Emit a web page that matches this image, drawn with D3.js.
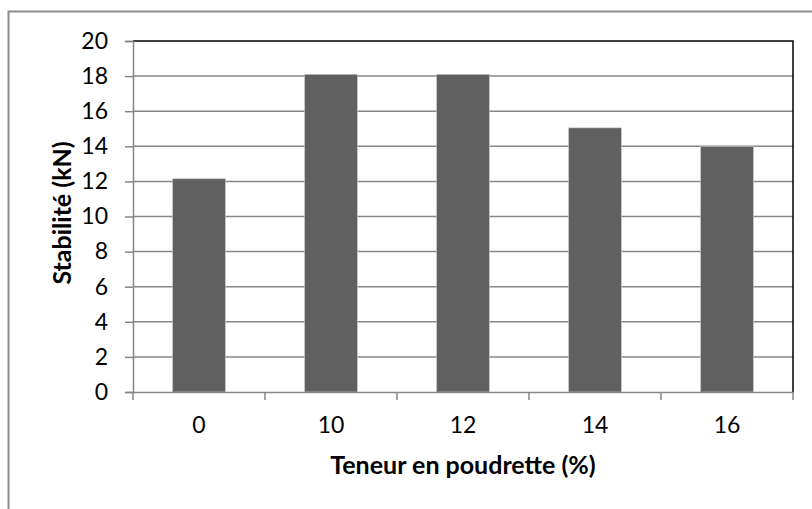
<!DOCTYPE html>
<html>
<head>
<meta charset="utf-8">
<script src="https://cdn.jsdelivr.net/npm/d3@7"></script>
<style>
  body { margin: 0; background: #fff; }
  svg { display: block; }
</style>
</head>
<body>
<svg width="812" height="509"></svg>
<script>
const categories = ["0", "10", "12", "14", "16"];
const values = [12.15, 18.1, 18.1, 15.05, 14.0];
const yTicks = [0, 2, 4, 6, 8, 10, 12, 14, 16, 18, 20];

const width = 812;
const height = 509;
const margin = { top: 41, right: 19, bottom: 117, left: 133 };
const font = "Lato, 'Open Sans', sans-serif";

const svg = d3.select("svg");

// outer chart border (cut off at right/bottom like the reference)
svg.append("rect")
  .attr("x", 8.5).attr("y", 11.5)
  .attr("width", 820).attr("height", 520)
  .attr("fill", "#fff")
  .attr("stroke", "#8c8c8c")
  .attr("stroke-width", 2);

const x = d3.scaleBand()
  .domain(categories)
  .range([margin.left, width - margin.right])
  .paddingInner(0.6)
  .paddingOuter(0.3);

const y = d3.scaleLinear()
  .domain([0, 20])
  .range([height - margin.bottom, margin.top]);

// gridlines
svg.append("g")
  .selectAll("line")
  .data(yTicks.filter(d => d > 0 && d < 20))
  .enter()
  .append("line")
  .attr("x1", margin.left)
  .attr("x2", width - margin.right)
  .attr("y1", d => y(d))
  .attr("y2", d => y(d))
  .attr("stroke", "#878787")
  .attr("stroke-width", 1.5);

// bars
svg.append("g")
  .selectAll("rect")
  .data(values)
  .enter()
  .append("rect")
  .attr("x", (d, i) => x(categories[i]))
  .attr("width", x.bandwidth())
  .attr("y", d => y(d))
  .attr("height", d => y(0) - y(d))
  .attr("fill", "#606060")
  .attr("stroke", "#c8c8c8")
  .attr("stroke-width", 0.6);

// plot frame top/right (black)
svg.append("path")
  .attr("d", `M${margin.left},${margin.top}H${width - margin.right}V${height - margin.bottom}`)
  .attr("fill", "none")
  .attr("stroke", "#000")
  .attr("stroke-width", 1.5);

// y axis
const yAxis = svg.append("g")
  .attr("transform", `translate(${margin.left},0)`)
  .call(d3.axisLeft(y).tickValues(yTicks).tickSize(8).tickPadding(17));
yAxis.select(".domain").attr("stroke", "#868686").attr("stroke-width", 1.5);
yAxis.selectAll(".tick line").attr("stroke", "#868686").attr("stroke-width", 1.5);
yAxis.selectAll("text")
  .style("font-family", font)
  .style("font-size", "23px")
  .attr("fill", "#000");

// x axis with ticks at band boundaries
const xAxis = svg.append("g")
  .attr("transform", `translate(0,${height - margin.bottom})`)
  .call(d3.axisBottom(x).tickSize(0));
xAxis.select(".domain").attr("stroke", "#868686").attr("stroke-width", 1.5);
xAxis.selectAll("text")
  .attr("y", 41)
  .attr("dy", 0)
  .style("font-family", font)
  .style("font-size", "23px")
  .attr("fill", "#000");

const bounds = d3.range(categories.length + 1).map(i => margin.left + i * (width - margin.left - margin.right) / categories.length);
xAxis.selectAll(".bound")
  .data(bounds)
  .enter()
  .append("line")
  .attr("x1", d => d).attr("x2", d => d)
  .attr("y1", 0).attr("y2", 8)
  .attr("stroke", "#868686")
  .attr("stroke-width", 1.5);

// axis titles
svg.append("text")
  .attr("transform", `translate(71,213) rotate(-90)`)
  .attr("text-anchor", "middle")
  .style("font-family", font)
  .style("font-size", "25px")
  .style("font-weight", "bold")
  .text("Stabilité (kN)");

svg.append("text")
  .attr("x", 463)
  .attr("y", 474)
  .attr("text-anchor", "middle")
  .style("font-family", font)
  .style("font-size", "25px")
  .style("font-weight", "bold")
  .text("Teneur en poudrette (%)");
</script>
</body>
</html>
